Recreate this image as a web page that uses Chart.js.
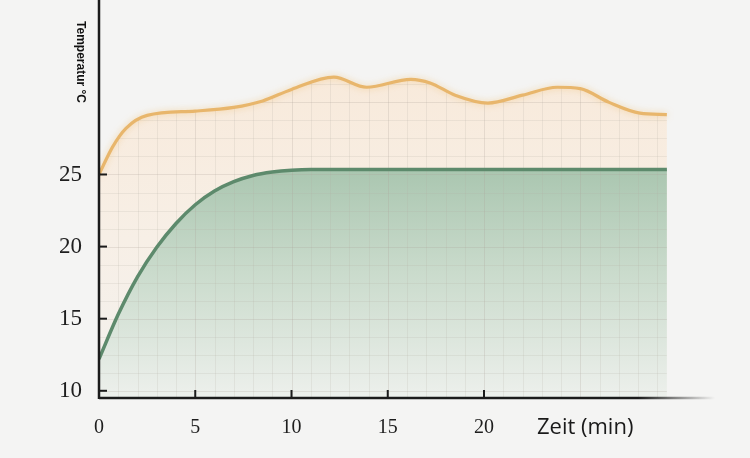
<!DOCTYPE html>
<html lang="de">
<head>
<meta charset="utf-8">
<script src="https://cdn.jsdelivr.net/npm/chart.js@4/dist/chart.umd.min.js"></script>
<style>
  html, body { margin: 0; padding: 0; background: #f4f4f3; }
  #wrap { width: 750px; height: 458px; }
</style>
</head>
<body>
<div id="wrap"><canvas id="grafico" width="750" height="458"></canvas></div>
<script>
// Daten
const zeitGruen = [0, 1, 2, 3, 4, 5, 6, 7, 8, 9, 10, 11, 29.5];
const tempGruen = [12.2, 15.3, 17.9, 19.95, 21.6, 22.9, 23.85, 24.5, 24.93, 25.17, 25.3, 25.35, 25.35];

const zeitOrange = [0, 0.7, 1.4, 2.5, 5, 7, 8.5, 10, 12.2, 13.9, 16.2, 17.2, 18.5, 20.2, 22, 23.8, 25, 26.5, 28.1, 29.5];
const tempOrange = [25, 26.9, 28.2, 29.1, 29.4, 29.65, 30.1, 30.9, 31.75, 31.05, 31.6, 31.35, 30.5, 29.95, 30.5, 31.05, 30.95, 30.0, 29.25, 29.15];

const xTicks = [0, 5, 10, 15, 20];
const yTicks = [10, 15, 20, 25];

const punkte = (xs, ys) => xs.map((x, i) => ({ x: x, y: ys[i] }));

function verlauf(c, oben, stops) {
  const chart = c.chart;
  const area = chart.chartArea;
  if (!area) return 'transparent';
  const top = chart.scales.y.getPixelForValue(oben);
  const g = chart.ctx.createLinearGradient(0, top, 0, area.bottom);
  stops.forEach(s => g.addColorStop(s[0], s[1]));
  return g;
}

// Gitter nur unter der orangen Kurve, Achsen und Beschriftungen
const zeichenPlugin = {
  id: 'zeichen',
  beforeDatasetsDraw(chart) {
    const { ctx, chartArea, scales: { x, y } } = chart;
    const linie = chart.getDatasetMeta(1).dataset;
    linie.updateControlPoints(chartArea, 'x');
    ctx.save();
    ctx.beginPath();
    linie.path(ctx);
    ctx.lineTo(x.getPixelForValue(zeitOrange[zeitOrange.length - 1]), y.bottom);
    ctx.lineTo(x.getPixelForValue(0), y.bottom);
    ctx.closePath();
    ctx.clip();
    ctx.lineWidth = 1;
    for (let t = 1; t <= 30; t++) {
      const px = Math.round(x.getPixelForValue(t)) + 0.5;
      ctx.strokeStyle = t % 5 === 0 ? 'rgba(170,160,150,0.24)' : 'rgba(180,172,162,0.18)';
      ctx.beginPath(); ctx.moveTo(px, y.top); ctx.lineTo(px, y.bottom); ctx.stroke();
    }
    for (let v = 10; v <= 37; v += 1.25) {
      const py = Math.round(y.getPixelForValue(v)) + 0.5;
      ctx.strokeStyle = v % 5 === 0 ? 'rgba(170,160,150,0.24)' : 'rgba(180,172,162,0.18)';
      ctx.beginPath(); ctx.moveTo(x.left, py); ctx.lineTo(x.right, py); ctx.stroke();
    }
    ctx.restore();
  },
  beforeDatasetDraw(chart, args) {
    if (args.index === 1) {
      chart.ctx.save();
      chart.ctx.shadowColor = 'rgba(240,190,110,0.55)';
      chart.ctx.shadowBlur = 6;
    }
  },
  afterDatasetDraw(chart, args) {
    if (args.index === 1) chart.ctx.restore();
  },
  afterDatasetsDraw(chart) {
    const { ctx, scales: { x, y } } = chart;
    ctx.save();
    ctx.strokeStyle = '#1b1b1b';
    ctx.lineWidth = 2.5;
    // y-Achse
    ctx.beginPath(); ctx.moveTo(x.left, 0); ctx.lineTo(x.left, y.bottom + 1); ctx.stroke();
    // x-Achse, rechts auslaufend
    const g = ctx.createLinearGradient(x.getPixelForValue(28), 0, x.right, 0);
    g.addColorStop(0, 'rgba(27,27,27,1)');
    g.addColorStop(1, 'rgba(27,27,27,0)');
    ctx.strokeStyle = g;
    ctx.beginPath(); ctx.moveTo(x.left, y.bottom); ctx.lineTo(x.right, y.bottom); ctx.stroke();
    // Striche nach innen
    ctx.strokeStyle = '#1b1b1b';
    ctx.lineWidth = 2;
    yTicks.forEach(v => {
      const py = y.getPixelForValue(v);
      ctx.beginPath(); ctx.moveTo(x.left, py); ctx.lineTo(x.left + 8, py); ctx.stroke();
    });
    xTicks.slice(1).forEach(v => {
      const px = x.getPixelForValue(v);
      ctx.beginPath(); ctx.moveTo(px, y.bottom); ctx.lineTo(px, y.bottom - 8); ctx.stroke();
    });
    // Titel
    ctx.fillStyle = '#111';
    ctx.font = 'bold 12px "Liberation Sans", Arial, sans-serif';
    ctx.textAlign = 'center';
    ctx.textBaseline = 'middle';
    ctx.translate(x.left - 19, 62);
    ctx.rotate(Math.PI / 2);
    ctx.fillText('Temperatur °C', 0, 0);
    ctx.restore();

    ctx.save();
    ctx.fillStyle = '#1a1a1a';
    ctx.font = '22px "Open Sans", "Noto Sans", sans-serif';
    ctx.textAlign = 'left';
    ctx.textBaseline = 'middle';
    ctx.fillText('Zeit (min)', x.getPixelForValue(22.75), 428);
    ctx.restore();
  }
};

const ctx = document.getElementById('grafico').getContext('2d');

new Chart(ctx, {
  type: 'line',
  data: {
    datasets: [
      {
        label: 'grün',
        data: punkte(zeitGruen, tempGruen),
        borderColor: '#5d8a6c',
        borderWidth: 3.5,
        pointRadius: 0,
        cubicInterpolationMode: 'monotone',
        fill: 'start',
        backgroundColor: c => verlauf(c, 25.35, [[0, '#aac6b0'], [0.45, '#cadbcc'], [1, '#edf0ec']])
      },
      {
        label: 'orange',
        data: punkte(zeitOrange, tempOrange),
        borderColor: '#e8b66c',
        borderWidth: 3.2,
        pointRadius: 0,
        cubicInterpolationMode: 'monotone',
        fill: 'start',
        backgroundColor: c => verlauf(c, 31.7, [[0, '#f8eadb'], [0.5, '#f7efe6'], [1, '#f3f1ee']])
      }
    ]
  },
  options: {
    responsive: false,
    animation: false,
    devicePixelRatio: 1,
    layout: { padding: { left: 0, right: 35, top: 0, bottom: 0 } },
    plugins: {
      legend: { display: false },
      tooltip: { enabled: false },
      filler: { drawTime: 'beforeDatasetsDraw' }
    },
    scales: {
      x: {
        type: 'linear',
        min: 0,
        max: 32,
        grid: { display: false, drawTicks: false },
        border: { display: false },
        afterFit: s => { s.height = 60; s.paddingLeft = 0; s.paddingRight = 0; },
        afterBuildTicks: s => { s.ticks = xTicks.map(v => ({ value: v })); },
        ticks: {
          padding: 18,
          maxRotation: 0,
          color: '#1e1e1e',
          font: { family: '"Liberation Serif", "DejaVu Serif", serif', size: 20 }
        }
      },
      y: {
        min: 9.5,
        max: 37.1,
        grid: { display: false, drawTicks: false },
        border: { display: false },
        afterFit: s => { s.width = 99; s.paddingTop = 0; s.paddingBottom = 0; },
        afterBuildTicks: s => { s.ticks = yTicks.map(v => ({ value: v })); },
        ticks: {
          padding: 17,
          color: '#1e1e1e',
          font: { family: '"Liberation Serif", "DejaVu Serif", serif', size: 23 }
        }
      }
    }
  },
  plugins: [zeichenPlugin]
});
</script>
</body>
</html>
